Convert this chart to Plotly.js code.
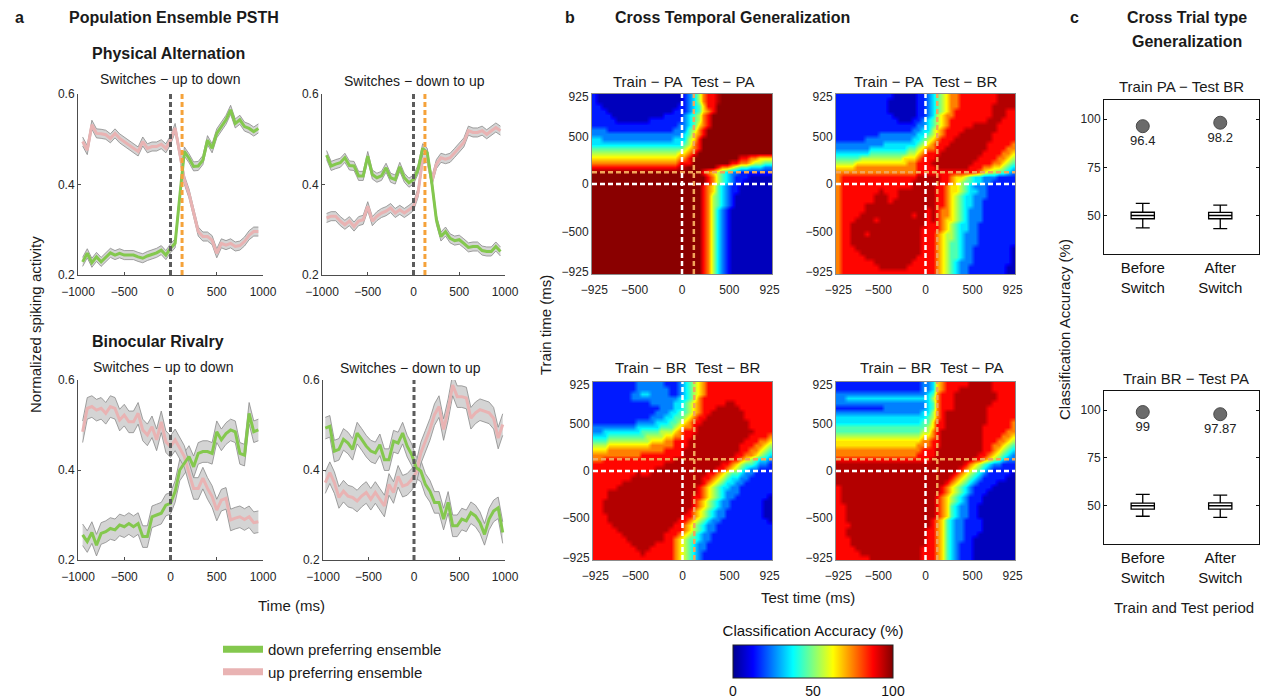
<!DOCTYPE html>
<html><head><meta charset="utf-8">
<script src="https://cdn.plot.ly/plotly-3.0.1.min.js"></script>
<style>html,body{margin:0;padding:0;background:#fff}#chart{width:1269px;height:698px}</style>
</head><body><div id="chart"></div>
<script>
// ---------------- DATA ----------------
const TIME_39 = [-950,-900,-850,-800,-750,-700,-650,-600,-550,-500,-450,-400,-350,-300,-250,-200,-150,-100,-50,0,50,100,150,200,250,300,350,400,450,500,550,600,650,700,750,800,850,900,950];
const TIME_40 = [-975,-925,-875,-825,-775,-725,-675,-625,-575,-525,-475,-425,-375,-325,-275,-225,-175,-125,-75,-25,25,75,125,175,225,275,325,375,425,475,525,575,625,675,725,775,825,875,925,975];

// Physical alternation, switches up->down
const PA_UD_GREEN = [0.229,0.248,0.227,0.240,0.229,0.240,0.249,0.244,0.248,0.244,0.244,0.244,0.240,0.237,0.242,0.246,0.249,0.255,0.244,0.259,0.270,0.373,0.473,0.458,0.440,0.441,0.454,0.498,0.480,0.513,0.528,0.543,0.565,0.535,0.543,0.528,0.524,0.517,0.524];
const PA_UD_PINK  = [0.495,0.476,0.532,0.513,0.512,0.510,0.502,0.513,0.502,0.495,0.487,0.480,0.473,0.495,0.480,0.484,0.484,0.489,0.480,0.498,0.525,0.469,0.410,0.380,0.336,0.296,0.285,0.285,0.277,0.248,0.270,0.266,0.270,0.263,0.265,0.274,0.288,0.296,0.296];
// Physical alternation, switches down->up
const PA_DU_GREEN = [0.465,0.441,0.445,0.448,0.459,0.442,0.441,0.419,0.419,0.463,0.422,0.415,0.419,0.437,0.415,0.411,0.439,0.415,0.404,0.411,0.433,0.480,0.470,0.404,0.322,0.285,0.296,0.281,0.276,0.278,0.270,0.261,0.263,0.263,0.254,0.252,0.252,0.263,0.252];
const PA_DU_PINK  = [0.326,0.330,0.330,0.319,0.311,0.319,0.307,0.319,0.322,0.352,0.319,0.330,0.337,0.341,0.348,0.337,0.344,0.337,0.344,0.352,0.382,0.456,0.459,0.407,0.445,0.459,0.456,0.459,0.470,0.482,0.493,0.519,0.515,0.515,0.519,0.511,0.519,0.526,0.519];
// Binocular rivalry, switches up->down
const BR_UD_GREEN = [0.256,0.241,0.261,0.233,0.259,0.263,0.270,0.267,0.278,0.274,0.281,0.274,0.281,0.252,0.252,0.296,0.300,0.304,0.322,0.326,0.352,0.400,0.415,0.430,0.407,0.437,0.441,0.441,0.437,0.485,0.467,0.481,0.489,0.485,0.437,0.433,0.526,0.485,0.489];
const BR_UD_PINK  = [0.485,0.537,0.541,0.533,0.537,0.526,0.541,0.537,0.511,0.522,0.507,0.507,0.526,0.489,0.478,0.496,0.467,0.507,0.463,0.452,0.467,0.448,0.430,0.393,0.359,0.359,0.382,0.359,0.341,0.311,0.333,0.337,0.289,0.293,0.296,0.290,0.296,0.283,0.285];
// Binocular rivalry, switches down->up
const BR_DU_GREEN = [0.493,0.497,0.442,0.446,0.468,0.460,0.446,0.482,0.468,0.453,0.442,0.438,0.456,0.423,0.423,0.464,0.460,0.482,0.453,0.434,0.405,0.398,0.368,0.353,0.328,0.328,0.291,0.328,0.276,0.276,0.291,0.287,0.305,0.298,0.283,0.257,0.291,0.309,0.316,0.261];
const BR_DU_PINK  = [0.372,0.394,0.372,0.339,0.353,0.342,0.339,0.331,0.342,0.350,0.335,0.350,0.335,0.320,0.368,0.350,0.386,0.364,0.368,0.379,0.394,0.438,0.464,0.490,0.523,0.541,0.490,0.534,0.589,0.563,0.563,0.560,0.515,0.527,0.534,0.530,0.527,0.515,0.471,0.501];
// half-width of the grey error band (approx.)
const SEM_PA = 0.010;
const SEM_BR = 0.024;

// Cross temporal generalization: time bins (ms)
const TIME_BINS = [-925,-875,-825,-775,-725,-675,-625,-575,-525,-475,-425,-375,-325,-275,-225,-175,-125,-75,-25,25,75,125,175,225,275,325,375,425,475,525,575,625,675,725,775,825,875,925];
// accuracy level (%) for each character used in the row strings below
const LEVEL_KEYS = '0123456789X';
const LEVELS = [5,15,25,35,45,55,65,75,87,95,99];
// rows: train time 925 (top) -> -925 (bottom); columns: test time -925 -> 925
const Z_PA_PA = [
"1000000000 0000000001 2357889XXX XXXXXXXX",
"1000000000 0000000001 2357889XXX XXXXXXXX",
"1100000000 0000000011 234688XXXX XXXXXXXX",
"1110000000 0000000111 234678XXXX XXXXXXXX",
"1111000000 0000011112 34578XXXXX XXXXXXXX",
"1111100000 0011111112 34578XXXXX XXXXXXXX",
"1111111111 1111111122 34678XXXXX XXXXXXXX",
"2221111111 1111111222 4578XXXXXX XXXXXXXX",
"2222222222 2222222223 4678XXXXXX XXXXXXXX",
"3322222222 2222222333 568XXXXXXX XXXXXXXX",
"3333333333 3333333334 578XXXXXXX XXXXXXXX",
"4444444444 4444444445 678XXXXXXX XXXXXXXX",
"5555555555 5555555566 78XXXXXXXX XXXXXXXX",
"6666666666 6666666677 8XXXXXXXXX X8877666",
"7777777777 7777777788 8XXXXXXXX8 87765544",
"8888888888 8888888899 XXXXXX8776 54433322",
"XXXXXXXXXX XXXXXXXXXX XXX8765432 21111111",
"XXXXXXXXXX XXXXXXXXXX XXXX875432 11100000",
"XXXXXXXXXX XXXXXXXXXX XXXX875432 11000000",
"XXXXXXXXXX XXXXXXXXXX XXX8764321 10000000",
"XXXXXXXXXX XXXXXXXXXX XXX8764321 10000000",
"XXXXXXXXXX XXXXXXXXXX XXX8754321 00000000",
"XXXXXXXXXX XXXXXXXXXX XXX8754321 00000000",
"XXXXXXXXXX XXXXXXXXXX XXX8754321 00000000",
"XXXXXXXXXX XXXXXXXXXX XXX8753210 00000000",
"XXXXXXXXXX XXXXXXXXXX XXX8753210 00000000",
"XXXXXXXXXX XXXXXXXXXX XXX8753210 00000000",
"XXXXXXXXXX XXXXXXXXXX XXX8753210 00000000",
"XXXXXXXXXX XXXXXXXXXX XXX8753210 00000000",
"XXXXXXXXXX XXXXXXXXXX XXX8753210 00000000",
"XXXXXXXXXX XXXXXXXXXX XXX8753210 00000000",
"XXXXXXXXXX XXXXXXXXXX XXX8753210 00000000",
"XXXXXXXXXX XXXXXXXXXX XXX8753210 00000000",
"XXXXXXXXXX XXXXXXXXXX XXX8753210 00000000",
"XXXXXXXXXX XXXXXXXXXX XXX8753210 00000000",
"XXXXXXXXXX XXXXXXXXXX XXX8753210 00000000",
"XXXXXXXXXX XXXXXXXXXX XXX8753210 00000000",
"XXXXXXXXXX XXXXXXXXXX XXX8753210 00000000"];
const Z_PA_BR = [
"1111111111 1100000112 3456778888 88889999",
"1111111111 1000000112 3456778888 88889999",
"1111111111 1000000112 3456778888 88899999",
"1111111111 1000000112 3456788888 88899988",
"1111111111 1100000112 3567788888 88899988",
"1111111111 1110001123 4567888888 88999888",
"1111111111 1111111223 4567888889 99998888",
"1111111111 1111112233 5678888999 99998888",
"1111111112 2222222334 5678889999 99988888",
"1111112222 2222223345 6788899999 99988888",
"2222222222 3333333456 7888999999 99888887",
"2222222333 3333344567 7889999999 99888877",
"3333333444 4444455678 8899999999 98888776",
"4444455555 5555666788 8999999999 88887765",
"5555666666 6666677888 9999999998 88877654",
"6666777777 7777777888 8999999988 87766543",
"7777777777 7777777888 8888888888 76554432",
"7888888888 8888888999 9988766543 32221111",
"7888888888 8888889999 9988765443 32211111",
"7888888888 8888889999 9887665432 22111111",
"7888888889 8889999999 9887665433 22111111",
"7888888899 9889999999 9887654332 22111111",
"7888888899 9899999999 9887654332 21111111",
"7888889999 9999999999 9887654332 21111111",
"7888889999 9999999998 9877654322 21111111",
"7888899999 9999998998 9877654322 21111111",
"7888999989 9999999998 9876654322 21111111",
"7889999999 9999999998 8876543322 11111111",
"7889999999 9999999988 8876543322 11111111",
"7889998999 9999999988 8765543222 11111111",
"7889999999 9999999988 8765543222 11111111",
"7889999999 9999999988 8765443222 11111111",
"7888999999 9999999988 8765443221 11111110",
"7888899999 9999999988 8765443221 11111110",
"7888889999 9999999888 8765443221 11111110",
"7888888899 9999998888 8765432221 11111110",
"7888888889 9999988888 8765432211 11111100",
"7888888888 8888888888 8765432211 11111100"];
const Z_BR_BR = [
"1111111112 2222211123 4567888888 88888888",
"1111111112 2222221123 4567888888 88888888",
"1111111122 3322221123 4567888888 88888888",
"1111111122 2222222233 4578888888 88888888",
"1111111111 1122222334 5678888899 88888888",
"1111111111 1111222334 5678889999 98888888",
"1111111111 1112223344 5678899999 99888888",
"1111111111 1122233445 6788999999 99888888",
"1111111112 2223334456 7889999999 99988888",
"2222222223 3333444567 7899999999 99988888",
"2233333333 4444555678 8899999999 99998888",
"3334444444 4555566778 8999999999 99988887",
"4445555555 5566677888 9999999999 99888776",
"5556666666 6677777888 9999999999 98887765",
"6667777777 7777788889 9999999999 98877654",
"7777777777 8888888889 9999999999 88776543",
"7788888888 8888888999 9999999998 87654332",
"8888888888 8888899999 9999999887 65443221",
"8888888888 8889999999 9999998876 54322111",
"8888888889 8899999999 9999887654 43221111",
"8888888899 9999999999 9998876543 32211111",
"8888889999 9999999999 9998765433 22111111",
"8888899999 9999999999 9987654332 21111111",
"8889999999 9999999999 9987654322 21111111",
"8889999999 9999999999 9887654322 11111110",
"8899999999 9999999999 9876543221 11111100",
"8899999999 9999999999 9876543221 11111100",
"8899999999 9999999999 8765432211 11111100",
"8889999999 9999999998 8765432211 11111100",
"8889999999 9999999988 7654322111 11111110",
"8888999999 9999999887 6543221111 11111111",
"8888899999 9999998887 6543221111 11111111",
"8888889999 9999988876 5432211111 11111111",
"8888888999 9999988765 4432211111 11111111",
"8888888899 9998888765 4322111111 11111111",
"8888888889 9988888765 4322111111 11111111",
"8888888888 9888888765 4321111111 11111111",
"8888888888 8888888765 4321111111 11111111"];
const Z_BR_PA = [
"1111111111 1111111122 3678888899 99988888",
"1111111111 1111111122 3678889999 99988888",
"2222222222 2222222223 4788899999 99998888",
"2233333333 3333333333 5788899999 99998888",
"2222222222 2222222223 4788899999 99988888",
"1111111111 2222222223 4788899999 99888888",
"2222222222 2222222233 5789999999 99888888",
"3333333333 3333333334 5789999999 99888888",
"3333333333 3333333344 6889999999 99888887",
"4444444444 4444444445 6889999999 98888887",
"4444444444 4444444455 7899999999 98888877",
"5555555555 5555555566 7899999999 98888776",
"6666666666 6666666677 8899999999 98887765",
"6666666666 6666666777 8899999999 98877654",
"7777777777 7777777788 8999999999 98876543",
"7777777777 7777777888 8999999999 88765432",
"8888888888 8888888888 9999999998 87654322",
"9999999999 9999999999 9999999876 54322111",
"9999999999 9999999999 9999998765 43211111",
"9999999999 9999999999 9999987654 32111110",
"9999999999 9999999999 9999876543 21111100",
"9999999999 9999999999 9998765432 11110000",
"8999999999 9999999999 9987654321 11100000",
"8999999999 9999999999 9987654321 11000000",
"8999999999 9999999999 9876543211 10000000",
"8999999999 9999999999 9876543211 10000000",
"8899999999 9999999999 9876432211 00000000",
"8899999999 9999999999 9876432211 00000000",
"8899999999 9999999999 9876432211 00000000",
"8899999999 9999999999 8764322111 10000000",
"8889999999 9999999999 8764322111 10000000",
"8899999999 9999999998 8764322111 10000000",
"8899999999 9999999998 8764322111 00000000",
"8889999999 9999999998 8764322110 00000000",
"8889999999 9999999998 8764321110 00000000",
"8888999999 9999999988 8764321110 00000000",
"8888899999 9999999988 8764321110 00000000",
"8888888999 9999999988 8764321110 00000000"];

// Cross trial-type generalization
const PERIODS = ['Before<br>Switch','After<br>Switch'];
const PERIOD_POS = [1, 2];
const ACC_PA_BR = [96.4, 98.2];
const ACC_BR_PA = [99, 97.87];
const ACC_PA_BR_LABELS = ['96.4','98.2'];
const ACC_BR_PA_LABELS = ['99','97.87'];
// shuffled-label null distribution summary (box plots)
const NULL_PA_BR = {q1:[48.3,48.3], med:[50,50], q3:[51.7,51.6], lo:[43.6,43.2], hi:[56.3,55.4]};
const NULL_BR_PA = {q1:[48.2,48.2], med:[50,50], q3:[51.4,51.5], lo:[44.5,43.9], hi:[56.0,55.6]};

// ---------------- DRAWING ----------------
const W = 1269, H = 698;
const FONT = 'Liberation Sans, Arial, Helvetica, sans-serif';
const GREEN = '#84c84e', PINK = '#e9b3b3', BAND = '#d4d4d4', BANDEDGE = '#8a8a8a';
const DASHGREY = '#5c5c5c', ORANGE = '#f5a23a';
const JET = [[0,'#00008f'],[0.125,'#0000ff'],[0.375,'#00ffff'],[0.625,'#ffff00'],[0.875,'#ff0000'],[1,'#800000']];
function dx(a,b){return [a/W, b/W];}
function dy(t,b){return [1-b/H, 1-t/H];}
const decode = rows => rows.map(r => r.replace(/ /g,'').split('').map(c => LEVELS[LEVEL_KEYS.indexOf(c)]));

const traces = [];
function band(t, y, sem, xa, ya){
  traces.push({x:t, y:y.map(v=>v-sem), mode:'lines', line:{color:BANDEDGE,width:0.8}, xaxis:xa, yaxis:ya, showlegend:false, hoverinfo:'skip'});
  traces.push({x:t, y:y.map(v=>v+sem), mode:'lines', line:{color:BANDEDGE,width:0.8}, fill:'tonexty', fillcolor:BAND, xaxis:xa, yaxis:ya, showlegend:false, hoverinfo:'skip'});
}
function line(t, y, color, xa, ya){
  traces.push({x:t, y:y, mode:'lines', line:{color:color,width:3}, xaxis:xa, yaxis:ya, showlegend:false});
}
const psth = [
  [TIME_39, PA_UD_GREEN, PA_UD_PINK, SEM_PA, 'x','y'],
  [TIME_39, PA_DU_GREEN, PA_DU_PINK, SEM_PA, 'x2','y2'],
  [TIME_39, BR_UD_GREEN, BR_UD_PINK, SEM_BR, 'x3','y3'],
  [TIME_40, BR_DU_GREEN, BR_DU_PINK, SEM_BR, 'x4','y4']
];
psth.forEach(p=>{
  band(p[0], p[1], p[3], p[4], p[5]);
  band(p[0], p[2], p[3], p[4], p[5]);
  line(p[0], p[2], PINK, p[4], p[5]);
  line(p[0], p[1], GREEN, p[4], p[5]);
});
// legend entries
traces.push({x:[null], y:[null], mode:'lines', line:{color:GREEN,width:7}, name:'down preferring ensemble', xaxis:'x', yaxis:'y', showlegend:true});
traces.push({x:[null], y:[null], mode:'lines', line:{color:PINK,width:7}, name:'up preferring ensemble', xaxis:'x', yaxis:'y', showlegend:true});

// heatmaps
const TRAIN_TOP_DOWN = TIME_BINS.slice().reverse();
const hm = [[Z_PA_PA,'x5','y5'],[Z_PA_BR,'x6','y6'],[Z_BR_BR,'x7','y7'],[Z_BR_PA,'x8','y8']];
hm.forEach((h,i)=>{
  const tr = {type:'heatmap', x:TIME_BINS, y:TRAIN_TOP_DOWN, z:decode(h[0]), colorscale:JET, zmin:0, zmax:100,
    zsmooth:'best', xaxis:h[1], yaxis:h[2], showscale:(i===0), hoverinfo:'skip'};
  if(i===0){
    tr.colorbar = {orientation:'h', x:813/W, xanchor:'center', xref:'paper', y:3/H, yanchor:'bottom', yref:'paper',
      xpad:0, ypad:0,
      len:160, lenmode:'pixels', thickness:33, thicknessmode:'pixels', outlinewidth:1, outlinecolor:'#222',
      tickvals:[0,50,100], ticks:'', tickfont:{size:14,family:FONT,color:'#111'},
      title:{text:'Classification Accuracy (%)', side:'top', font:{size:15,family:FONT,color:'#111'}}};
  }
  traces.push(tr);
});

// panel c
function boxes(s, xa, ya){
  traces.push({type:'box', x:PERIOD_POS, q1:s.q1, median:s.med, q3:s.q3, lowerfence:s.lo, upperfence:s.hi,
    xaxis:xa, yaxis:ya, fillcolor:'#ffffff', line:{color:'#000',width:1.3}, width:0.3, whiskerwidth:0.6,
    boxpoints:false, showlegend:false, hoverinfo:'skip'});
}
boxes(NULL_PA_BR,'x9','y9');
boxes(NULL_BR_PA,'x10','y10');
traces.push({x:PERIOD_POS, y:ACC_PA_BR, mode:'markers+text', text:ACC_PA_BR_LABELS, textposition:'bottom center',
  textfont:{size:13,family:FONT,color:'#222'}, marker:{size:13,color:'#6b6b6b',line:{color:'#4a4a4a',width:1}},
  xaxis:'x9', yaxis:'y9', showlegend:false, cliponaxis:false});
traces.push({x:PERIOD_POS, y:ACC_BR_PA, mode:'markers+text', text:ACC_BR_PA_LABELS, textposition:'bottom center',
  textfont:{size:13,family:FONT,color:'#222'}, marker:{size:13,color:'#6b6b6b',line:{color:'#4a4a4a',width:1}},
  xaxis:'x10', yaxis:'y10', showlegend:false, cliponaxis:false});

// axes
const tickF = {size:12, family:FONT, color:'#262626'};
function psthX(dom){return {domain:dom, range:[-1000,1000], tickvals:[-1000,-500,0,500,1000], showline:true, linecolor:'#4d4d4d',
  ticks:'inside', ticklen:3, tickcolor:'#4d4d4d', showgrid:false, zeroline:false, tickfont:tickF, ticklabelstandoff:6, fixedrange:true, automargin:false};}
function psthY(dom, xa){return {domain:dom, anchor:xa, range:[0.2,0.6], tickvals:[0.2,0.4,0.6], ticktext:['0.2','0.4','0.6'], showline:true, linecolor:'#4d4d4d',
  ticks:'inside', ticklen:3, tickcolor:'#4d4d4d', showgrid:false, zeroline:false, tickfont:tickF, fixedrange:true, automargin:false};}
function hmX(dom, ya){return {domain:dom, anchor:ya, range:[-950,950], tickvals:[-925,-500,0,500,925], showline:true, mirror:true, linecolor:'#8c8c8c',
  ticks:'', showgrid:false, zeroline:false, tickfont:tickF, ticklabelstandoff:5, automargin:false};}
function hmY(dom, xa){return {domain:dom, anchor:xa, range:[-950,950], tickvals:[-925,-500,0,500,925], showline:true, mirror:true, linecolor:'#8c8c8c',
  ticks:'', showgrid:false, zeroline:false, tickfont:tickF, automargin:false};}
function cX(dom, ya){return {domain:dom, anchor:ya, range:[0.5,2.5], tickvals:PERIOD_POS, ticktext:PERIODS, showline:true, mirror:true, linecolor:'#111',
  ticks:'', showgrid:false, zeroline:false, tickfont:{size:15,family:FONT,color:'#111'}, automargin:false};}
function cY(dom, xa){return {domain:dom, anchor:xa, range:[30,110], tickvals:[50,75,100], showline:true, mirror:'ticks', linecolor:'#111',
  ticks:'inside', ticklen:3, tickcolor:'#111', showgrid:false, zeroline:false, tickfont:tickF, automargin:false};}

const layout = {
  width:W, height:H, margin:{l:0,r:0,t:0,b:0}, paper_bgcolor:'#fff', plot_bgcolor:'rgba(0,0,0,0)',
  font:{family:FONT, color:'#1a1a1a'},
  showlegend:true,
  legend:{x:218/W, y:1-633/H, xanchor:'left', yanchor:'top', traceorder:'normal', font:{size:15,family:FONT,color:'#1a1a1a'}, bgcolor:'rgba(0,0,0,0)', itemwidth:40, tracegroupgap:0},
  xaxis: Object.assign(psthX(dx(78,263)),{anchor:'y'}), yaxis: psthY(dy(94,275),'x'),
  xaxis2: Object.assign(psthX(dx(322,505)),{anchor:'y2'}), yaxis2: psthY(dy(94,275),'x2'),
  xaxis3: Object.assign(psthX(dx(78,263)),{anchor:'y3'}), yaxis3: psthY(dy(380,560),'x3'),
  xaxis4: Object.assign(psthX(dx(323,505)),{anchor:'y4'}), yaxis4: psthY(dy(380,560),'x4'),
  xaxis5: hmX(dx(592,772),'y5'), yaxis5: hmY(dy(94,274),'x5'),
  xaxis6: hmX(dx(836,1015),'y6'), yaxis6: hmY(dy(94,274),'x6'),
  xaxis7: hmX(dx(593,772),'y7'), yaxis7: hmY(dy(382,560),'x7'),
  xaxis8: hmX(dx(836,1015),'y8'), yaxis8: hmY(dy(382,560),'x8'),
  xaxis9: cX(dx(1104,1259),'y9'), yaxis9: cY(dy(100,254),'x9'),
  xaxis10: cX(dx(1104,1259),'y10'), yaxis10: cY(dy(391,544),'x10'),
  shapes:[], annotations:[]
};

// dashed markers: switch time (0) and reported switch (125 ms)
function vdash(xa, ya, xv, color, w){
  layout.shapes.push({type:'line', xref:xa, yref:ya+' domain', x0:xv, x1:xv, y0:0, y1:1, line:{color:color, width:w, dash:'5px,3px'}});
}
function hdash(xa, ya, yv, color, w){
  layout.shapes.push({type:'line', xref:xa+' domain', yref:ya, x0:0, x1:1, y0:yv, y1:yv, line:{color:color, width:w, dash:'5px,3px'}});
}
vdash('x','y',0,DASHGREY,3); vdash('x','y',125,ORANGE,3);
vdash('x2','y2',0,DASHGREY,3); vdash('x2','y2',125,ORANGE,3);
vdash('x3','y3',0,DASHGREY,3);
vdash('x4','y4',0,DASHGREY,3);
[['x5','y5'],['x6','y6'],['x7','y7'],['x8','y8']].forEach(a=>{
  hdash(a[0],a[1],125,'#f2a55a',2.5); vdash(a[0],a[1],125,'#f2a55a',2.5);
  hdash(a[0],a[1],0,'#ffffff',2.5); vdash(a[0],a[1],0,'#ffffff',2.5);
});

function ann(text, x, y, o){
  o = o || {};
  layout.annotations.push({text:text, x:x/W, y:1-y/H, xref:'paper', yref:'paper', showarrow:false,
    xanchor:o.anchor||'center', yanchor:'middle', textangle:o.angle||0,
    font:{size:o.size||14, family:FONT, color:o.color||'#1a1a1a'}});
}
ann('<b>a</b>',13,18,{anchor:'left',size:16});
ann('<b>Population Ensemble PSTH</b>',67,18,{anchor:'left',size:16});
ann('<b>Physical Alternation</b>',90,54,{anchor:'left',size:16});
ann('Switches − up to down',170,79,{size:14});
ann('Switches − down to up',414,81,{size:14});
ann('<b>Binocular Rivalry</b>',90,341,{anchor:'left',size:16});
ann('Switches − up to down',163,367,{size:14});
ann('Switches − down to up',410,368,{size:14});
ann('Normalized spiking activity',35,325,{angle:-90,size:15});
ann('Time (ms)',291,605,{size:15});
ann('<b>b</b>',563,18,{anchor:'left',size:16});
ann('<b>Cross Temporal Generalization</b>',613,18,{anchor:'left',size:16});
ann('Train − PA\u00a0\u00a0Test − PA',683,82,{size:15});
ann('Train − PA\u00a0\u00a0Test − BR',926,82,{size:15});
ann('Train − BR\u00a0\u00a0Test − BR',687,368,{size:15});
ann('Train − BR\u00a0\u00a0Test − PA',932,368,{size:15});
ann('Train time (ms)',545,325,{angle:-90,size:15});
ann('Test time (ms)',808,597,{size:15});
ann('<b>c</b>',1068,18,{anchor:'left',size:16});
ann('<b>Cross Trial type</b>',1187,18,{size:16});
ann('<b>Generalization</b>',1187,42,{size:16});
ann('Train PA − Test BR',1181,87,{size:15});
ann('Train BR − Test PA',1186,378,{size:15});
ann('Classification Accuracy (%)',1065,330,{angle:-90,size:15});
ann('Train and Test period',1184,607,{size:15});

Plotly.newPlot('chart', traces, layout, {displayModeBar:false, staticPlot:true});
</script></body></html>
